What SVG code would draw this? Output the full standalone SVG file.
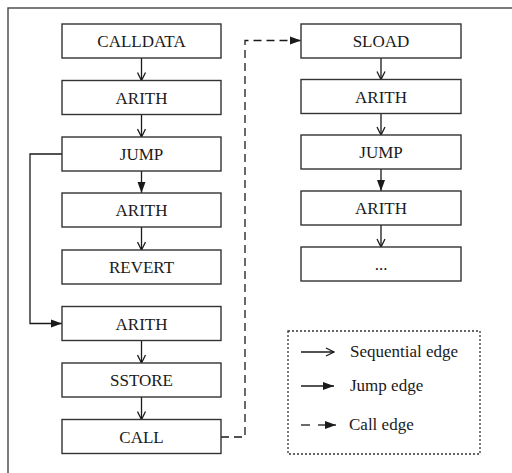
<svg xmlns="http://www.w3.org/2000/svg" width="512" height="473" viewBox="0 0 512 473">
<defs>
<style>
.box{fill:#fff;stroke:#333;stroke-width:1.4}
text{font-family:'Liberation Serif','Times New Roman','DejaVu Serif',serif;font-size:17px;fill:#1a1a1a}
.t{text-anchor:middle}
.e{fill:none;stroke:#1a1a1a;stroke-width:1.3}
.d{fill:none;stroke:#1a1a1a;stroke-width:1.3;stroke-dasharray:8,5}
</style>
<marker id="open" markerWidth="10" markerHeight="10" refX="9" refY="5" orient="auto" markerUnits="userSpaceOnUse">
<path d="M1,1 L9,5 L1,9" fill="none" stroke="#1a1a1a" stroke-width="1.3"/>
</marker>
<marker id="fill" markerWidth="12" markerHeight="10" refX="11" refY="5" orient="auto" markerUnits="userSpaceOnUse">
<path d="M0,1 L11,5 L0,9 Z" fill="#1a1a1a"/>
</marker>
</defs>
<rect x="8" y="8" width="520" height="480" fill="none" stroke="#444" stroke-width="1.4"/>
<g id="connectors">
<line class="e" x1="141.5" y1="58" x2="141.5" y2="80.5" marker-end="url(#open)"/>
<line class="e" x1="141.5" y1="114.5" x2="141.5" y2="137" marker-end="url(#open)"/>
<line class="e" x1="141.5" y1="171" x2="141.5" y2="193" marker-end="url(#fill)"/>
<line class="e" x1="141.5" y1="227" x2="141.5" y2="250" marker-end="url(#open)"/>
<line class="e" x1="141.5" y1="340.5" x2="141.5" y2="363" marker-end="url(#open)"/>
<line class="e" x1="141.5" y1="397" x2="141.5" y2="419.5" marker-end="url(#open)"/>
<polyline class="e" points="62,154 30,154 30,323.5 62,323.5" marker-end="url(#fill)"/>
<polyline class="d" points="221,437 245,437 245,40.5 301,40.5" marker-end="url(#fill)"/>
<line class="e" x1="381" y1="58" x2="381" y2="79.5" marker-end="url(#open)"/>
<line class="e" x1="381" y1="113.5" x2="381" y2="135" marker-end="url(#open)"/>
<line class="e" x1="381" y1="169" x2="381" y2="191" marker-end="url(#fill)"/>
<line class="e" x1="381" y1="225" x2="381" y2="247" marker-end="url(#open)"/>
</g>
<g id="n1"><rect class="box" x="62" y="24" width="159" height="34"/><text class="t" x="141.5" y="47" font-family="Liberation Serif">CALLDATA</text></g>
<g id="n2"><rect class="box" x="62" y="80.5" width="159" height="34"/><text class="t" x="141.5" y="103.5" font-family="Liberation Serif">ARITH</text></g>
<g id="n3"><rect class="box" x="62" y="137" width="159" height="34"/><text class="t" x="141.5" y="160" font-family="Liberation Serif">JUMP</text></g>
<g id="n4"><rect class="box" x="62" y="193" width="159" height="34"/><text class="t" x="141.5" y="216" font-family="Liberation Serif">ARITH</text></g>
<g id="n5"><rect class="box" x="62" y="250" width="159" height="34"/><text class="t" x="141.5" y="273" font-family="Liberation Serif">REVERT</text></g>
<g id="n6"><rect class="box" x="62" y="306.5" width="159" height="34"/><text class="t" x="141.5" y="329.5" font-family="Liberation Serif">ARITH</text></g>
<g id="n7"><rect class="box" x="62" y="363" width="159" height="34"/><text class="t" x="141.5" y="386" font-family="Liberation Serif">SSTORE</text></g>
<g id="n8"><rect class="box" x="62" y="419.5" width="159" height="34"/><text class="t" x="141.5" y="442.5" font-family="Liberation Serif">CALL</text></g>
<g id="m1"><rect class="box" x="301" y="24" width="160" height="34"/><text class="t" x="381" y="47" font-family="Liberation Serif">SLOAD</text></g>
<g id="m2"><rect class="box" x="301" y="79.5" width="160" height="34"/><text class="t" x="381" y="102.5" font-family="Liberation Serif">ARITH</text></g>
<g id="m3"><rect class="box" x="301" y="135" width="160" height="34"/><text class="t" x="381" y="158" font-family="Liberation Serif">JUMP</text></g>
<g id="m4"><rect class="box" x="301" y="191" width="160" height="34"/><text class="t" x="381" y="214" font-family="Liberation Serif">ARITH</text></g>
<g id="m5"><rect class="box" x="301" y="247" width="160" height="34"/><text class="t" x="381" y="270" font-family="Liberation Serif">...</text></g>
<g id="legend">
<rect x="288" y="331" width="192" height="123" fill="none" stroke="#333" stroke-width="1.3" stroke-dasharray="2,2"/>
<line class="e" x1="301" y1="352" x2="334" y2="352" marker-end="url(#open)"/>
<text x="350" y="357" font-family="Liberation Serif">Sequential edge</text>
<line class="e" x1="301" y1="386" x2="334" y2="386" marker-end="url(#fill)"/>
<text x="350" y="391" font-family="Liberation Serif">Jump edge</text>
<line class="e" x1="301" y1="425" x2="310" y2="425"/>
<line class="e" x1="318" y1="425" x2="336" y2="425" marker-end="url(#fill)"/>
<text x="349" y="430" font-family="Liberation Serif">Call edge</text>
</g>
</svg>
